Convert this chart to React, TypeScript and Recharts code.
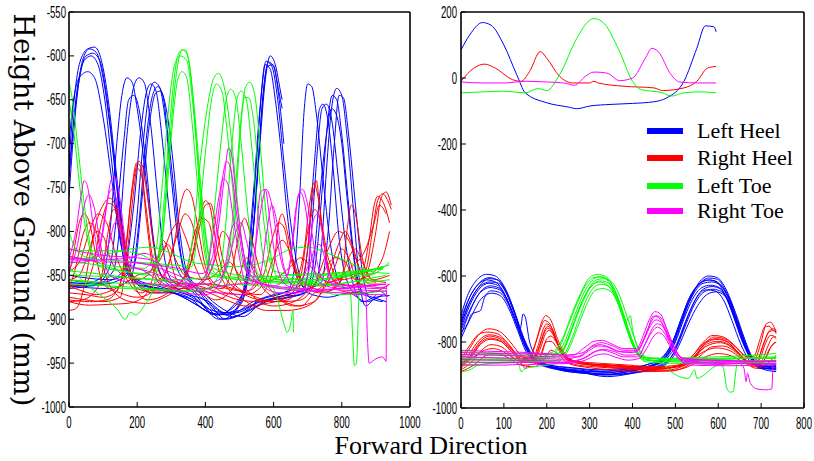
import React from 'react';
import { LineChart, Line, XAxis, YAxis } from 'recharts';

type P = [number, number];

// ---------------- Left panel (unaligned trials) ----------------
// Left Heel (blue)
const lhL1: P[] = [[0,-720],[15,-650],[30,-610],[55,-592],[75,-590],[95,-605],[115,-650],[135,-720],[155,-790],[175,-840],[200,-860],[250,-870],[300,-870],[350,-875],[400,-890],[440,-895],[480,-885],[520,-860],[540,-800],[560,-700],[575,-630],[590,-600],[605,-610],[620,-640],[625,-650]];
const lhL2: P[] = [[0,-760],[20,-660],[40,-605],[60,-592],[80,-596],[100,-625],[120,-680],[140,-750],[160,-820],[180,-850],[230,-862],[300,-868],[380,-885],[430,-895],[470,-890],[510,-870],[530,-820],[550,-720],[565,-640],[578,-606],[595,-612],[612,-650],[630,-720],[650,-790],[670,-840],[700,-870],[760,-875],[820,-870],[870,-880],[920,-872]];
const lhL3: P[] = [[0,-740],[20,-650],[45,-605],[65,-600],[85,-610],[105,-650],[125,-720],[145,-790],[165,-840],[190,-858],[250,-865],[320,-872],[400,-885],[450,-900],[490,-888],[520,-850],[540,-760],[560,-660],[575,-610],[590,-615],[605,-650],[620,-700],[640,-780],[660,-840],[690,-865]];
const lhL4: P[] = [[0,-700],[10,-660],[30,-625],[55,-618],[75,-625],[100,-670],[125,-740],[150,-810],[175,-848],[210,-860],[280,-866],[350,-878],[420,-893],[470,-895],[510,-875],[535,-820],[555,-720],[570,-640],[585,-607],[600,-612],[615,-645],[630,-700]];
const lhL5: P[] = [[0,-735],[25,-640],[50,-600],[70,-597],[90,-605],[110,-645],[130,-710],[150,-780],[170,-835],[200,-855],[260,-862],[330,-870],[410,-880],[460,-893],[500,-885],[530,-840],[550,-750],[568,-650],[582,-612],[598,-610],[615,-640],[625,-660]];
const lhL6: P[] = [[0,-855],[60,-858],[100,-850],[120,-800],[140,-700],[155,-645],[170,-625],[185,-630],[200,-660],[220,-720],[240,-790],[260,-840],[290,-860],[350,-870],[420,-890],[480,-893],[540,-880],[600,-872],[640,-868],[660,-845],[675,-770],[690,-660],[700,-632],[712,-635],[725,-665],[745,-740],[765,-810],[785,-850],[810,-865]];
const lhL7: P[] = [[0,-862],[70,-862],[130,-845],[150,-790],[170,-690],[190,-635],[205,-625],[220,-630],[240,-680],[260,-760],[280,-830],[300,-855],[360,-868],[430,-895],[500,-892],[560,-878],[630,-870],[680,-860],[700,-820],[720,-720],[735,-660],[745,-655],[760,-675],[775,-730],[790,-800],[810,-850],[840,-870],[880,-870]];
const lhL8: P[] = [[0,-865],[80,-860],[120,-840],[140,-780],[160,-700],[175,-650],[190,-645],[205,-660],[225,-720],[245,-800],[265,-845],[300,-860],[380,-880],[440,-900],[500,-895],[560,-880],[640,-875],[690,-870],[715,-840],[735,-760],[755,-690],[770,-660],[782,-665],[800,-700],[815,-760],[835,-830],[855,-870],[890,-875],[930,-880]];
const lhL9: P[] = [[0,-858],[100,-860],[170,-850],[195,-800],[215,-710],[232,-650],[250,-630],[265,-635],[280,-665],[300,-740],[320,-810],[340,-848],[380,-868],[440,-893],[500,-890],[560,-880],[640,-872],[720,-862],[740,-820],[755,-730],[770,-660],[785,-637],[800,-645],[815,-690],[835,-780],[850,-850],[870,-885],[900,-875],[940,-873]];
const lhL10: P[] = [[0,-862],[110,-865],[180,-855],[205,-790],[225,-700],[245,-645],[260,-635],[275,-645],[290,-690],[310,-760],[330,-830],[350,-852],[400,-875],[460,-900],[520,-892],[590,-878],[660,-870],[740,-858],[760,-800],[778,-700],[792,-645],[805,-648],[820,-690],[840,-770],[860,-845],[880,-875],[920,-880]];
const lhL11: P[] = [[0,-850],[120,-855],[190,-840],[215,-760],[235,-680],[255,-642],[268,-640],[285,-660],[305,-720],[325,-800],[345,-845],[390,-868],[450,-888],[510,-897],[570,-880],[650,-875],[700,-868],[725,-830],[745,-740],[760,-670],[772,-645],[785,-650],[800,-690],[820,-770],[840,-840],[865,-870],[910,-868],[935,-875]];
const lhL12: P[] = [[0,-860],[100,-858],[160,-845],[190,-770],[212,-680],[228,-640],[240,-632],[255,-640],[272,-690],[292,-770],[315,-840],[350,-860],[420,-885],[480,-897],[540,-887],[620,-874],[680,-872],[700,-850],[715,-780],[730,-700],[742,-660],[755,-655],[770,-672],[790,-740],[810,-810],[830,-855],[860,-880],[900,-873]];

// Right Heel (red)
const rhL1: P[] = [[0,-890],[20,-888],[40,-870],[60,-830],[80,-790],[100,-770],[120,-762],[140,-775],[160,-810],[180,-845],[210,-862],[260,-868],[320,-860],[350,-845],[380,-800],[400,-770],[415,-768],[430,-790],[450,-830],[480,-858],[550,-875],[600,-880],[640,-878],[680,-860],[700,-820],[715,-760],[725,-742],[735,-770],[750,-820],[780,-858],[830,-862],[870,-845],[890,-800],[905,-765],[920,-757],[935,-765],[945,-775]];
const rhL2: P[] = [[0,-870],[50,-872],[100,-875],[140,-868],[160,-840],[180,-770],[195,-730],[205,-720],[215,-725],[230,-760],[250,-820],[270,-850],[320,-858],[380,-862],[440,-870],[500,-878],[560,-880],[620,-875],[660,-860],[690,-820],[705,-770],[718,-745],[730,-760],[750,-820],[775,-855],[820,-862],[870,-850],[900,-800],[915,-762],[930,-755],[945,-770]];
const rhL3: P[] = [[0,-878],[60,-880],[110,-878],[150,-860],[170,-810],[185,-750],[198,-722],[210,-726],[225,-770],[245,-830],[270,-855],[330,-860],[400,-868],[460,-878],[520,-885],[580,-882],[640,-875],[680,-850],[700,-800],[720,-775],[740,-790],[760,-830],[800,-855],[860,-845],[880,-810],[895,-770],[905,-760],[925,-770],[940,-790]];
const rhL4: P[] = [[0,-850],[15,-820],[30,-790],[45,-780],[60,-790],[80,-830],[100,-860],[150,-870],[200,-875],[240,-870],[280,-850],[310,-810],[330,-765],[345,-752],[360,-760],[380,-800],[400,-840],[430,-860],[500,-868],[560,-872],[600,-840],[615,-790],[625,-780],[640,-800],[660,-840],[700,-862],[760,-868],[800,-855],[815,-800],[828,-770],[840,-780],[860,-830],[890,-855],[940,-850]];
const rhL5: P[] = [[0,-860],[40,-862],[70,-840],[95,-790],[115,-768],[130,-770],[150,-800],[170,-840],[200,-865],[260,-870],[320,-860],[360,-830],[385,-780],[400,-765],[412,-770],[430,-810],[455,-850],[500,-868],[560,-878],[620,-880],[680,-878],[720,-860],[760,-820],[790,-800],[820,-810],[850,-840],[880,-860],[920,-860]];
const rhL6: P[] = [[0,-868],[20,-840],[40,-805],[60,-790],[80,-800],[100,-840],[130,-868],[180,-880],[230,-882],[280,-875],[330,-865],[400,-860],[450,-862],[520,-868],[570,-850],[595,-810],[615,-790],[630,-795],[650,-830],[680,-860],[740,-870],[790,-860],[820,-830],[840,-820],[860,-835],[890,-855],[930,-858]];
const rhL7: P[] = [[0,-880],[40,-878],[90,-860],[115,-800],[130,-775],[145,-780],[165,-820],[190,-860],[230,-878],[290,-870],[340,-850],[370,-800],[390,-785],[410,-790],[430,-830],[460,-862],[520,-880],[580,-890],[640,-890],[700,-885],[740,-870],[780,-840],[800,-820],[820,-830],[850,-860],[900,-862]];
const rhL8: P[] = [[0,-855],[30,-850],[60,-820],[80,-800],[100,-805],[120,-830],[160,-850],[200,-855],[230,-850],[260,-830],[290,-815],[310,-830],[340,-850],[400,-855],[440,-845],[470,-835],[500,-850],[540,-860],[600,-855],[650,-840],[680,-830],[720,-845],[760,-858],[820,-850],[880,-845],[920,-840]];
const rhL9: P[] = [[0,-875],[50,-878],[100,-880],[150,-875],[172,-820],[188,-760],[200,-728],[212,-735],[228,-790],[248,-845],[275,-862],[340,-865],[400,-855],[430,-830],[450,-800],[470,-810],[490,-845],[530,-870],[600,-885],[660,-880],[700,-868],[740,-850],[780,-830],[810,-835],[840,-855],[880,-850],[920,-830],[940,-800]];
const rhL10: P[] = [[0,-845],[30,-835],[60,-800],[85,-780],[110,-790],[140,-830],[170,-855],[210,-870],[250,-860],[290,-840],[320,-800],[340,-780],[360,-790],[385,-830],[410,-855],[460,-870],[520,-872],[570,-860],[600,-830],[625,-810],[650,-825],[680,-855],[720,-862],[780,-855],[830,-840],[870,-820],[895,-790],[910,-770],[930,-780]];
const rhL11: P[] = [[0,-862],[40,-868],[80,-872],[120,-868],[160,-860],[200,-850],[240,-845],[270,-830],[300,-800],[320,-790],[340,-805],[370,-840],[400,-860],[450,-865],[480,-840],[500,-800],[515,-785],[530,-800],[560,-845],[600,-870],[660,-885],[720,-880],[760,-850],[790,-815],[810,-800],[830,-815],[860,-850],[900,-858]];
const rhL12: P[] = [[0,-880],[60,-884],[120,-883],[170,-882],[215,-876],[240,-860],[260,-830],[275,-810],[290,-820],[310,-850],[340,-865],[390,-870],[430,-878],[470,-870],[500,-850],[520,-830],[540,-840],[570,-865],[620,-878],[680,-885],[720,-870],[760,-860],[800,-868],[850,-870],[900,-868],[940,-860]];

// Left Toe (green)
const ltL1: P[] = [[0,-630],[10,-650],[25,-700],[45,-770],[65,-820],[90,-840],[150,-845],[230,-848],[260,-830],[280,-760],[295,-680],[310,-620],[325,-595],[340,-593],[355,-615],[370,-680],[385,-760],[400,-820],[420,-848],[480,-852],[560,-855],[650,-858],[720,-855],[800,-852],[880,-850],[940,-835]];
const ltL2: P[] = [[0,-650],[15,-690],[35,-760],[55,-810],[80,-835],[140,-840],[220,-842],[255,-820],[275,-740],[292,-660],[310,-610],[325,-600],[345,-605],[362,-650],[380,-730],[398,-800],[418,-840],[470,-848],[560,-852],[640,-850],[700,-848],[780,-850],[850,-845],[920,-843]];
const ltL3: P[] = [[0,-835],[80,-838],[160,-845],[240,-850],[270,-820],[290,-740],[305,-670],[320,-625],[332,-618],[345,-625],[362,-680],[380,-760],[398,-825],[420,-850],[500,-855],[580,-857],[660,-858],[740,-856],[820,-850],[900,-848]];
const ltL4: P[] = [[0,-840],[50,-860],[100,-875],[140,-888],[165,-900],[180,-892],[195,-895],[220,-885],[250,-860],[275,-800],[295,-700],[315,-620],[332,-593],[348,-600],[365,-650],[385,-740],[405,-815],[430,-848],[500,-855],[580,-858],[660,-860],[740,-862],[820,-858],[900,-855]];
const ltL5: P[] = [[0,-820],[60,-822],[130,-822],[200,-825],[280,-840],[340,-845],[365,-800],[385,-720],[405,-660],[425,-625],[438,-620],[455,-635],[475,-690],[495,-770],[515,-830],[540,-848],[580,-855],[610,-875],[630,-905],[640,-915],[650,-905],[657,-890],[658,-915]];
const ltL6: P[] = [[0,-845],[80,-848],[160,-852],[240,-855],[320,-858],[390,-860],[410,-830],[430,-760],[448,-690],[462,-648],[475,-638],[490,-650],[505,-700],[522,-770],[540,-830],[560,-850],[640,-853],[720,-855],[800,-850],[880,-845],[940,-838]];
const ltL7: P[] = [[0,-830],[100,-832],[200,-835],[300,-838],[360,-840],[380,-790],[400,-710],[418,-650],[432,-632],[448,-640],[465,-690],[485,-770],[505,-830],[530,-850],[620,-855],[700,-853],[780,-848],[860,-846],[920,-840]];
const ltL8: P[] = [[0,-855],[100,-858],[200,-860],[300,-862],[400,-865],[440,-850],[460,-790],[478,-700],[492,-650],[505,-640],[520,-650],[535,-700],[552,-770],[570,-830],[590,-852],[660,-858],[740,-860],[800,-862],[825,-870],[832,-920],[837,-953],[843,-950],[848,-900],[852,-860],[900,-857],[940,-855]];
const ltL9: P[] = [[0,-860],[120,-862],[240,-865],[360,-868],[440,-860],[470,-820],[490,-740],[505,-670],[518,-635],[530,-630],[545,-645],[560,-700],[578,-780],[598,-840],[620,-855],[700,-858],[780,-860],[860,-855],[930,-850]];
const ltL10: P[] = [[0,-850],[150,-852],[300,-855],[450,-850],[480,-810],[495,-730],[505,-675],[515,-647],[528,-648],[540,-670],[556,-730],[575,-800],[600,-845],[680,-850],[760,-848],[840,-845],[920,-842]];
const ltL11: P[] = [[0,-800],[20,-820],[60,-830],[120,-825],[180,-820],[240,-818],[300,-825],[360,-835],[420,-838],[480,-840],[540,-838],[600,-830],[650,-820],[700,-818],[760,-825],[820,-835],[880,-845],[940,-848]];
const ltL12: P[] = [[0,-855],[80,-860],[160,-865],[240,-866],[320,-868],[400,-866],[480,-860],[560,-862],[640,-865],[720,-868],[800,-872],[860,-870],[930,-868]];

// Right Toe (magenta)
const rtL1: P[] = [[0,-830],[20,-800],[35,-760],[45,-742],[55,-750],[70,-790],[90,-830],[120,-835],[180,-835],[250,-840],[320,-850],[380,-860],[420,-840],[440,-790],[455,-740],[468,-705],[478,-715],[490,-760],[510,-820],[530,-855],[600,-862],[680,-865],[760,-866],[840,-868],[870,-870],[875,-920],[880,-950],[900,-945],[920,-943],[930,-948],[931,-862],[940,-860]];
const rtL2: P[] = [[0,-830],[60,-832],[90,-815],[110,-770],[125,-740],[135,-738],[148,-760],[165,-810],[185,-835],[250,-838],[320,-842],[390,-848],[420,-830],[438,-780],[452,-735],[462,-720],[475,-730],[490,-775],[510,-830],[535,-855],[600,-862],[640,-850],[660,-800],[672,-760],[685,-752],[700,-770],[720,-820],[745,-855],[820,-862],[900,-865],[935,-862]];
const rtL3: P[] = [[0,-835],[40,-835],[80,-830],[100,-800],[115,-760],[125,-752],[140,-765],[160,-820],[180,-840],[230,-845],[300,-855],[360,-862],[400,-850],[420,-810],[440,-760],[452,-740],[465,-745],[480,-780],[500,-830],[520,-860],[540,-858],[550,-800],[562,-755],[575,-752],[590,-790],[610,-840],[640,-862],[720,-868],[800,-870],[860,-872],[930,-872]];
const rtL4: P[] = [[0,-845],[25,-815],[45,-770],[58,-758],[72,-770],[95,-820],[120,-850],[180,-858],[250,-860],[320,-862],[400,-865],[450,-862],[520,-858],[545,-820],[565,-770],[578,-752],[595,-770],[615,-820],[640,-850],[650,-830],[665,-775],[678,-755],[692,-770],[712,-830],[740,-860],[800,-865],[870,-862],[930,-860]];
const rtL5: P[] = [[0,-820],[60,-825],[120,-828],[200,-830],[260,-835],[300,-860],[330,-862],[380,-868],[440,-870],[500,-872],[560,-850],[580,-800],[595,-770],[610,-790],[630,-840],[660,-862],[700,-840],[715,-790],[728,-780],[742,-800],[760,-845],[790,-860],[860,-862],[930,-865]];
const rtL6: P[] = [[0,-832],[60,-833],[120,-832],[180,-830],[220,-825],[250,-830],[280,-845],[320,-855],[360,-860],[400,-860],[440,-855],[470,-830],[490,-800],[505,-790],[520,-810],[545,-850],[580,-862],[640,-866],[700,-868],[760,-866],[820,-864],[880,-862],[930,-860]];
const rtL7: P[] = [[0,-828],[50,-832],[90,-835],[120,-810],[135,-790],[150,-800],[170,-835],[220,-845],[280,-860],[340,-870],[400,-872],[440,-860],[460,-835],[475,-800],[488,-790],[500,-800],[520,-840],[560,-860],[620,-870],[680,-870],[700,-850],[720,-820],[735,-815],[750,-830],[770,-860],[840,-866],[930,-868]];

// ---------------- Right panel (aligned trials + means) ----------------
const lhMean: P[] = [[0,85],[20,130],[50,168],[70,160],[100,100],[130,10],[150,-45],[200,-75],[250,-88],[270,-93],[300,-85],[350,-80],[400,-77],[450,-72],[480,-60],[520,-10],[550,90],[570,158],[590,155],[595,140]];
const rhMean: P[] = [[0,-10],[30,30],[55,42],[80,30],[120,-5],[140,-10],[160,20],[185,80],[200,60],[230,5],[260,-15],[300,-15],[310,-10],[320,-15],[380,-25],[450,-30],[470,-38],[520,-30],[550,-10],[575,30],[595,35]];
const ltMean: P[] = [[0,-45],[50,-42],[100,-40],[150,-45],[180,-32],[200,-38],[230,10],[270,120],[300,175],[310,180],[330,170],[370,80],[400,-10],[420,-35],[470,-45],[490,-55],[520,-45],[560,-42],[595,-45]];
const rtMean: P[] = [[0,-12],[50,-15],[100,-15],[150,-10],[200,-12],[240,-15],[265,-22],[290,5],[310,18],[340,15],[370,-8],[400,0],[430,60],[445,90],[460,80],[490,10],[510,-12],[550,-15],[595,-15]];

const lhR1: P[] = [[0,-720],[15,-660],[35,-615],[60,-595],[80,-600],[100,-630],[120,-690],[140,-770],[160,-830],[190,-865],[240,-882],[300,-890],[350,-888],[400,-880],[440,-872],[470,-855],[495,-810],[515,-740],[535,-670],[555,-620],[578,-600],[598,-605],[618,-640],[640,-710],[660,-785],[680,-848],[700,-872],[735,-875]];
const lhR2: P[] = [[0,-740],[20,-665],[40,-625],[65,-605],[85,-612],[105,-650],[125,-715],[145,-790],[165,-845],[200,-872],[260,-885],[320,-895],[380,-888],[430,-878],[465,-858],[490,-815],[510,-750],[530,-680],[552,-630],[575,-612],[595,-617],[615,-655],[635,-720],[655,-795],[675,-850],[700,-878],[735,-880]];
const lhR3: P[] = [[0,-760],[20,-690],[42,-640],[65,-622],[85,-628],[105,-665],[125,-730],[145,-800],[168,-850],[210,-875],[270,-888],[330,-900],[390,-890],[440,-875],[475,-852],[500,-800],[520,-730],[540,-670],[562,-635],[582,-628],[602,-635],[622,-675],[642,-745],[662,-815],[682,-858],[710,-875],[735,-870]];
const lhR4: P[] = [[0,-780],[20,-710],[45,-650],[68,-635],[90,-642],[110,-680],[130,-745],[150,-815],[172,-855],[220,-880],[280,-892],[340,-905],[400,-895],[450,-880],[485,-855],[505,-810],[525,-745],[545,-685],[567,-648],[588,-640],[608,-648],[628,-690],[648,-760],[668,-830],[690,-870],[735,-885]];
const lhR5: P[] = [[0,-770],[15,-745],[25,-715],[35,-710],[45,-705],[55,-665],[70,-645],[90,-650],[112,-690],[132,-755],[152,-820],[175,-858],[225,-883],[290,-895],[350,-898],[410,-890],[455,-875],[490,-845],[510,-790],[530,-720],[550,-665],[572,-642],[592,-645],[612,-672],[632,-735],[652,-805],[672,-855],[700,-880],[735,-890]];
const lhR6: P[] = [[0,-730],[18,-670],[38,-628],[60,-612],[80,-618],[102,-655],[122,-720],[138,-760],[145,-715],[150,-725],[160,-800],[180,-850],[215,-875],[275,-885],[335,-892],[395,-885],[445,-870],[480,-840],[502,-780],[522,-710],[542,-655],[565,-622],[585,-618],[605,-628],[625,-665],[645,-735],[665,-810],[685,-860],[710,-880],[735,-878]];
const lhR7: P[] = [[0,-750],[22,-675],[45,-630],[68,-618],[88,-622],[108,-658],[128,-725],[148,-798],[170,-848],[205,-870],[265,-880],[325,-888],[385,-882],[435,-868],[470,-845],[495,-795],[515,-725],[535,-660],[558,-622],[580,-612],[600,-620],[620,-658],[640,-725],[660,-800],[680,-850],[705,-870],[735,-868]];
const lhR8: P[] = [[0,-790],[25,-720],[48,-668],[72,-652],[92,-660],[112,-700],[132,-765],[152,-830],[175,-862],[230,-885],[290,-895],[350,-900],[410,-892],[460,-878],[492,-850],[512,-800],[532,-740],[552,-690],[575,-655],[595,-648],[615,-660],[635,-705],[655,-775],[675,-845],[695,-880],[735,-882]];
const lhR9: P[] = [[0,-745],[20,-680],[42,-632],[66,-608],[86,-612],[106,-648],[126,-712],[146,-786],[168,-842],[200,-868],[260,-878],[320,-884],[380,-880],[430,-870],[468,-850],[492,-805],[512,-735],[532,-668],[555,-625],[578,-606],[598,-610],[618,-648],[638,-715],[658,-792],[678,-848],[702,-872],[735,-874]];
const lhR10: P[] = [[0,-765],[22,-700],[44,-650],[68,-630],[88,-636],[108,-672],[128,-738],[148,-808],[170,-852],[215,-878],[275,-890],[335,-898],[395,-888],[445,-874],[480,-850],[503,-806],[523,-740],[543,-680],[565,-640],[586,-632],[606,-640],[626,-682],[646,-752],[666,-822],[688,-866],[735,-880]];

const rhR1: P[] = [[0,-860],[20,-820],[40,-780],[65,-760],[90,-768],[115,-800],[140,-840],[160,-850],[175,-800],[188,-740],[198,-720],[210,-735],[225,-790],[245,-840],[270,-860],[320,-868],[380,-872],[440,-878],[500,-875],[540,-850],[565,-810],[590,-785],[615,-790],[640,-815],[665,-845],[685,-850],[700,-800],[712,-745],[722,-740],[732,-760],[735,-770]];
const rhR2: P[] = [[0,-870],[20,-835],[42,-795],[65,-778],[90,-785],[115,-815],[140,-850],[165,-855],[180,-810],[192,-760],[200,-745],[212,-758],[228,-810],[250,-850],[280,-865],[340,-870],[400,-875],[460,-882],[510,-870],[545,-835],[570,-800],[595,-790],[620,-798],[645,-830],[670,-860],[690,-858],[705,-810],[718,-770],[730,-765],[735,-775]];
const rhR3: P[] = [[0,-880],[22,-850],[45,-808],[68,-792],[92,-798],[118,-830],[145,-860],[170,-860],[185,-820],[197,-775],[205,-765],[218,-785],[235,-835],[258,-860],[300,-870],[360,-876],[420,-880],[480,-885],[525,-868],[555,-830],[580,-808],[605,-802],[630,-815],[655,-845],[680,-868],[700,-860],[715,-815],[728,-785],[735,-790]];
const rhR4: P[] = [[0,-885],[25,-860],[48,-825],[70,-808],[95,-815],[120,-845],[150,-870],[175,-865],[190,-830],[200,-790],[210,-782],[222,-800],[240,-845],[265,-868],[310,-875],[370,-880],[430,-885],[490,-888],[530,-870],[560,-840],[585,-815],[610,-812],[635,-825],[660,-855],[685,-875],[705,-860],[720,-820],[735,-800]];
const rhR5: P[] = [[0,-850],[18,-815],[38,-780],[60,-770],[85,-775],[110,-805],[135,-842],[158,-848],[172,-810],[185,-760],[195,-735],[207,-745],[222,-795],[242,-842],[268,-858],[330,-865],[390,-870],[450,-875],[505,-870],[538,-845],[562,-805],[588,-780],[612,-785],[638,-810],[662,-840],[682,-845],[698,-790],[708,-755],[718,-752],[728,-765],[735,-770]];
const rhR6: P[] = [[0,-875],[22,-845],[44,-805],[66,-788],[90,-795],[116,-825],[142,-856],[168,-858],[183,-815],[195,-770],[203,-758],[215,-775],[232,-825],[255,-855],[290,-866],[350,-872],[410,-878],[470,-880],[518,-872],[550,-840],[575,-805],[600,-798],[625,-808],[650,-838],[675,-862],[695,-855],[710,-805],[722,-780],[735,-785]];
const rhR7: P[] = [[0,-865],[30,-845],[55,-825],[75,-820],[100,-830],[130,-855],[160,-862],[185,-840],[198,-800],[210,-798],[225,-820],[250,-855],[300,-868],[360,-878],[420,-883],[480,-880],[530,-860],[565,-830],[595,-818],[625,-825],[655,-850],[685,-870],[710,-850],[725,-810],[735,-800]];
const rhR8: P[] = [[0,-890],[30,-870],[60,-840],[85,-835],[110,-848],[140,-870],[170,-875],[195,-850],[210,-825],[225,-835],[250,-865],[300,-878],[360,-885],[420,-890],[480,-888],[530,-875],[570,-845],[600,-835],[630,-842],[660,-862],[690,-880],[715,-865],[735,-840]];
const rhR9: P[] = [[0,-872],[22,-840],[44,-800],[66,-782],[90,-790],[116,-820],[142,-852],[166,-855],[182,-815],[194,-768],[202,-752],[214,-768],[230,-818],[252,-852],[285,-864],[345,-870],[405,-876],[465,-880],[515,-870],[548,-838],[572,-802],[597,-792],[622,-800],[647,-832],[672,-858],[692,-850],[707,-800],[720,-765],[730,-760],[735,-765]];

const ltR1: P[] = [[0,-830],[60,-832],[120,-835],[180,-838],[215,-830],[240,-780],[260,-710],[280,-650],[300,-605],[318,-595],[338,-602],[358,-640],[378,-710],[398,-790],[418,-840],[450,-850],[520,-848],[600,-845],[680,-840],[735,-835]];
const ltR2: P[] = [[0,-845],[70,-848],[140,-850],[200,-848],[230,-815],[250,-750],[270,-685],[290,-630],[310,-605],[328,-603],[348,-625],[368,-685],[388,-765],[408,-830],[430,-855],[500,-858],[580,-855],[660,-850],[735,-848]];
const ltR3: P[] = [[0,-870],[40,-868],[80,-865],[150,-862],[220,-858],[245,-810],[265,-740],[285,-675],[305,-630],[322,-618],[342,-628],[362,-670],[382,-745],[402,-815],[425,-850],[470,-865],[490,-890],[510,-905],[530,-910],[545,-885],[550,-910],[600,-870],[680,-862],[735,-858]];
const ltR4: P[] = [[0,-890],[20,-885],[40,-870],[100,-862],[170,-860],[230,-855],[255,-800],[275,-730],[295,-665],[312,-632],[328,-625],[348,-635],[368,-680],[388,-755],[408,-822],[430,-852],[500,-860],[560,-862],[600,-860],[612,-880],[620,-940],[628,-952],[635,-950],[640,-900],[645,-860],[700,-858],[735,-855]];
const ltR5: P[] = [[0,-855],[80,-855],[160,-855],[225,-845],[248,-795],[268,-725],[288,-662],[308,-625],[325,-615],[345,-622],[365,-665],[385,-738],[395,-720],[400,-760],[410,-810],[430,-848],[500,-852],[580,-850],[660,-848],[735,-845]];
const ltR6: P[] = [[0,-838],[60,-838],[130,-840],[180,-845],[200,-840],[235,-830],[255,-770],[275,-700],[295,-645],[315,-612],[333,-608],[353,-620],[373,-670],[393,-745],[413,-815],[435,-848],[500,-850],[580,-852],[660,-850],[735,-850]];
const ltR7: P[] = [[0,-862],[60,-862],[120,-860],[135,-870],[140,-890],[150,-880],[220,-865],[250,-825],[272,-755],[292,-690],[312,-645],[330,-638],[350,-648],[370,-695],[390,-770],[410,-835],[432,-860],[520,-865],[600,-865],[680,-862],[735,-860]];
const ltR8: P[] = [[0,-850],[80,-852],[160,-850],[222,-840],[245,-790],[265,-720],[285,-655],[305,-615],[322,-602],[342,-610],[362,-655],[382,-730],[402,-805],[422,-845],[500,-855],[580,-856],[660,-858],[735,-856]];

const rtR1: P[] = [[0,-825],[60,-828],[120,-830],[200,-835],[260,-840],[290,-815],[310,-798],[330,-795],[350,-805],[380,-820],[410,-820],[425,-780],[440,-730],[452,-708],[465,-715],[480,-760],[498,-820],[515,-848],[580,-855],[650,-858],[735,-860]];
const rtR2: P[] = [[0,-845],[80,-848],[160,-850],[240,-852],[280,-840],[305,-815],[325,-808],[345,-815],[375,-830],[410,-830],[428,-790],[442,-750],[455,-733],[468,-742],[485,-785],[505,-835],[525,-858],[600,-862],[680,-865],[735,-865]];
const rtR3: P[] = [[0,-860],[90,-862],[170,-862],[250,-862],[285,-850],[310,-830],[330,-825],[352,-832],[380,-845],[412,-845],[430,-805],[445,-770],[458,-755],[470,-765],[488,-805],[508,-848],[530,-865],[600,-868],[650,-865],[660,-880],[665,-920],[668,-895],[675,-925],[690,-942],[710,-945],[725,-942],[728,-870],[735,-868]];
const rtR4: P[] = [[0,-870],[100,-870],[140,-868],[150,-880],[160,-868],[250,-865],[290,-855],[315,-840],[335,-836],[358,-845],[390,-855],[415,-850],[435,-815],[448,-785],[460,-772],[472,-780],[490,-818],[510,-855],[535,-870],[620,-872],[700,-870],[735,-868]];
const rtR5: P[] = [[0,-838],[70,-840],[140,-842],[220,-845],[275,-845],[300,-825],[320,-812],[340,-815],[365,-828],[400,-832],[420,-810],[436,-760],[448,-722],[460,-725],[476,-765],[496,-828],[518,-855],[590,-858],[670,-860],[735,-858]];
const rtR6: P[] = [[0,-853],[80,-855],[170,-856],[250,-858],[290,-848],[312,-830],[332,-822],[355,-828],[385,-840],[415,-838],[432,-798],[446,-760],[458,-745],[470,-752],[488,-795],[508,-840],[528,-860],[620,-865],[700,-866],[735,-865]];
const rtR7: P[] = [[0,-832],[80,-835],[160,-836],[240,-840],[285,-832],[308,-810],[328,-802],[350,-810],[380,-825],[412,-825],[428,-785],[443,-740],[455,-720],[467,-728],[484,-775],[503,-830],[522,-852],[600,-855],[680,-858],[735,-857]];

// ---------------- Ticks / labels ----------------
const leftXTicks = [0, 200, 400, 600, 800, 1000];
const leftYTicks = [-1000, -950, -900, -850, -800, -750, -700, -650, -600, -550];
const rightXTicks = [0, 100, 200, 300, 400, 500, 600, 700, 800];
const rightYTicks = [-1000, -800, -600, -400, -200, 0, 200];
const legendLabels = ['Left Heel', 'Right Heel', 'Left Toe', 'Right Toe'];
const colors = ['#0000ff', '#ff0000', '#00ff00', '#ff00ff'];

const leftGroups: P[][][] = [
  [lhL1, lhL2, lhL3, lhL4, lhL5, lhL6, lhL7, lhL8, lhL9, lhL10, lhL11, lhL12],
  [rhL1, rhL2, rhL3, rhL4, rhL5, rhL6, rhL7, rhL8, rhL9, rhL10, rhL11, rhL12],
  [ltL1, ltL2, ltL3, ltL4, ltL5, ltL6, ltL7, ltL8, ltL9, ltL10, ltL11, ltL12],
  [rtL1, rtL2, rtL3, rtL4, rtL5, rtL6, rtL7],
];
const rightGroups: P[][][] = [
  [lhR1, lhR2, lhR3, lhR4, lhR5, lhR6, lhR7, lhR8, lhR9, lhR10, lhMean],
  [rhR1, rhR2, rhR3, rhR4, rhR5, rhR6, rhR7, rhR8, rhR9, rhMean],
  [ltR1, ltR2, ltR3, ltR4, ltR5, ltR6, ltR7, ltR8, ltMean],
  [rtR1, rtR2, rtR3, rtR4, rtR5, rtR6, rtR7, rtMean],
];

const toPts = (arr: P[]) => arr.map(([x, y]) => ({ x, y }));

const NarrowTick = (props: any) => {
  const { x, y, payload, side } = props;
  const by = side === 'bottom' ? y + 12 : y + 5.5;
  const anchor = side === 'bottom' ? 'middle' : 'end';
  return (
    <text
      transform={`translate(${x},${by}) scale(0.6,1)`}
      textAnchor={anchor}
      fontSize={16}
      fontFamily="'Liberation Sans', Arial, sans-serif"
      fill="#000"
    >
      {payload.value}
    </text>
  );
};

const axisLineStyle = { stroke: '#000', strokeWidth: 1.6 };
const tickLineStyle = { stroke: '#000', strokeWidth: 1 };

type PanelProps = {
  left: number;
  width: number;
  margin: { top: number; right: number; bottom: number; left: number };
  yAxisWidth: number;
  yTickMargin: number;
  xDomain: [number, number];
  yDomain: [number, number];
  xTicks: number[];
  yTicks: number[];
  groups: P[][][];
};

function Panel(p: PanelProps) {
  return (
    <div style={{ position: 'absolute', left: p.left, top: 0 }}>
      <LineChart width={p.width} height={461} margin={p.margin}>
        <XAxis
          xAxisId="b"
          dataKey="x"
          type="number"
          orientation="bottom"
          domain={p.xDomain}
          ticks={p.xTicks}
          interval={0}
          allowDataOverflow
          height={30}
          tickSize={-5}
          tickMargin={14}
          axisLine={axisLineStyle}
          tickLine={tickLineStyle}
          tick={(tp: any) => <NarrowTick {...tp} side="bottom" />}
        />
        <XAxis
          xAxisId="t"
          dataKey="x"
          type="number"
          orientation="top"
          domain={p.xDomain}
          ticks={p.xTicks}
          interval={0}
          allowDataOverflow
          height={1}
          tickSize={-5}
          axisLine={axisLineStyle}
          tickLine={tickLineStyle}
          tick={false}
        />
        <YAxis
          yAxisId="l"
          type="number"
          orientation="left"
          domain={p.yDomain}
          ticks={p.yTicks}
          interval={0}
          allowDataOverflow
          width={p.yAxisWidth}
          tickSize={-5}
          tickMargin={p.yTickMargin}
          axisLine={axisLineStyle}
          tickLine={tickLineStyle}
          tick={(tp: any) => <NarrowTick {...tp} side="left" />}
        />
        <YAxis
          yAxisId="r"
          type="number"
          orientation="right"
          domain={p.yDomain}
          ticks={p.yTicks}
          interval={0}
          allowDataOverflow
          width={1}
          tickSize={-5}
          axisLine={axisLineStyle}
          tickLine={tickLineStyle}
          tick={false}
        />
        {p.groups.map((grp, gi) =>
          grp.map((trace, ti) => (
            <Line
              key={`g${gi}-${ti}`}
              xAxisId="b"
              yAxisId="l"
              data={toPts(trace)}
              dataKey="y"
              type="monotone"
              stroke={colors[gi]}
              strokeWidth={1}
              dot={false}
              activeDot={false}
              isAnimationActive={false}
            />
          ))
        )}
      </LineChart>
    </div>
  );
}

const legendRowsY = [131, 158, 186, 211];

export default function App() {
  return (
    <div style={{ position: 'absolute', left: 0, top: 0, width: 814, height: 461, background: '#fff', overflow: 'hidden' }}>
      <Panel
        left={0}
        width={430}
        margin={{ top: 11, right: 19, bottom: 24, left: 9 }}
        yAxisWidth={60}
        yTickMargin={8}
        xDomain={[0, 1000]}
        yDomain={[-1000, -550]}
        xTicks={leftXTicks}
        yTicks={leftYTicks}
        groups={leftGroups}
      />
      <Panel
        left={420}
        width={394}
        margin={{ top: 11, right: 9, bottom: 23, left: 6 }}
        yAxisWidth={35}
        yTickMargin={9}
        xDomain={[0, 800]}
        yDomain={[-1000, 200]}
        xTicks={rightXTicks}
        yTicks={rightYTicks}
        groups={rightGroups}
      />
      <svg width={814} height={461} style={{ position: 'absolute', left: 0, top: 0, pointerEvents: 'none' }}>
        <text
          transform="translate(14,210) rotate(90)"
          textAnchor="middle"
          fontSize={28}
          fontFamily="'DejaVu Serif', serif"
          fill="#000"
        >
          Height Above Ground (mm)
        </text>
        <text x={431} y={454} textAnchor="middle" fontSize={26} fontFamily="'Liberation Serif', serif" fill="#000">
          Forward Direction
        </text>
        {legendLabels.map((lab, i) => (
          <g key={lab}>
            <rect x={647} y={legendRowsY[i] - 3} width={36} height={6} fill={colors[i]} />
            <text x={697} y={legendRowsY[i] + 7} fontSize={22} fontFamily="'Liberation Serif', serif" fill="#000">
              {lab}
            </text>
          </g>
        ))}
      </svg>
    </div>
  );
}
